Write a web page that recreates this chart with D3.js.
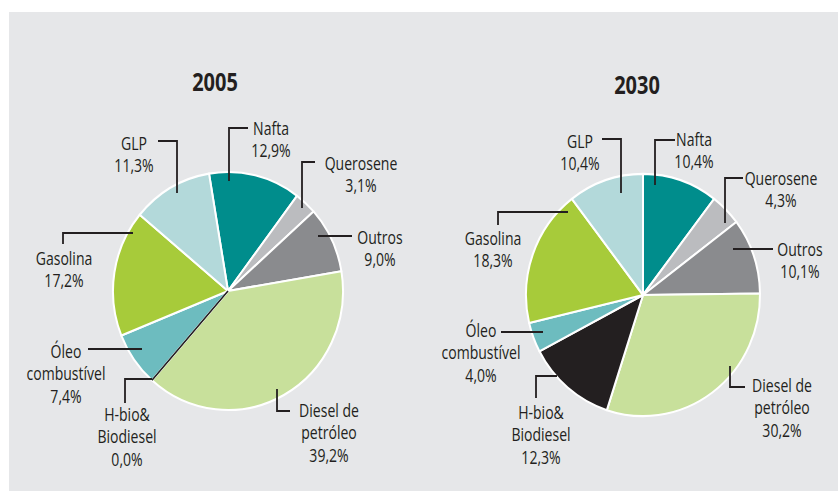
<!DOCTYPE html>
<html>
<head>
<meta charset="utf-8">
<script src="https://cdn.jsdelivr.net/npm/d3@7"></script>
<style>
  html, body { margin: 0; padding: 0; background: #ffffff; }
  svg { display: block; }
  text { font-family: "Open Sans", "Noto Sans", sans-serif; fill: #231f20; }
</style>
</head>
<body>
<svg id="chart" width="838" height="491"></svg>
<script>
// ---- Data ----
const categories = ["Nafta", "Querosene", "Outros", "Diesel de petróleo", "H-bio& Biodiesel", "Óleo combustível", "Gasolina", "GLP"];
const labelLines = [["Nafta"], ["Querosene"], ["Outros"], ["Diesel de", "petróleo"], ["H-bio&", "Biodiesel"], ["Óleo", "combustível"], ["Gasolina"], ["GLP"]];
const years = ["2005", "2030"];
const values2005 = [12.9, 3.1, 9.0, 39.2, 0.0, 7.4, 17.2, 11.3];
const values2030 = [10.4, 4.3, 10.1, 30.2, 12.3, 4.0, 18.3, 10.4];
const colors = ["#008d8c", "#bbbcbf", "#8a8b8e", "#c8e09b", "#231f20", "#6dbcbf", "#a7cb3a", "#b3d9da"];

// ---- Layout (positions & styles) ----
const W = 838, H = 491;
const labelScale = 0.78, titleScale = 0.8, lineGap = 22.5, labelSize = 18;
const panels = [
  { year: years[0], values: values2005, cx: 228, cy: 291, r: 115, start: -9.5, titleX: 215, titleY: 91,
    labels: [
      { x: 271, y: 129, leader: [[248,128],[229,128],[229,181]] },
      { x: 361, y: 164, leader: [[315,162],[302,162],[302,208]] },
      { x: 380, y: 238, leader: [[352,236],[318,236]] },
      { x: 329, y: 411, leader: [[290,411],[277,411],[277,389]] },
      { x: 127, y: 415, leader: [[125,403],[125,379],[152,379]] },
      { x: 66,  y: 352, leader: [[88,349],[142,349]] },
      { x: 64,  y: 259, leader: [[63,244],[63,233],[133,233]] },
      { x: 134, y: 144, leader: [[158,141],[177,141],[177,193]] }
    ] },
  { year: years[1], values: values2030, cx: 643, cy: 295, r: 117, start: 0, titleX: 637, titleY: 94,
    labels: [
      { x: 694, y: 140, leader: [[675,140],[655,140],[655,185]] },
      { x: 781, y: 179, leader: [[743,178],[725,178],[725,223]] },
      { x: 800, y: 250, leader: [[773,249],[733,249]] },
      { x: 782, y: 386, leader: [[745,387],[730,387],[730,366]] },
      { x: 541, y: 413, leader: [[536,398],[536,376],[557,376]] },
      { x: 481, y: 331, leader: [[501,332],[543,332]] },
      { x: 493, y: 239, leader: [[498,225],[498,212],[568,212]] },
      { x: 580, y: 142, leader: [[602,139],[621,139],[621,193]] }
    ] }
];

const svg = d3.select("#chart");
svg.append("rect").attr("x", 9).attr("y", 12).attr("width", W - 9).attr("height", H - 12).attr("fill", "#e6e7e9");

const color = d3.scaleOrdinal().domain(categories).range(colors);
const fmt = v => v.toFixed(1).replace(".", ",") + "%";
const line = d3.line();

panels.forEach(p => {
  const data = categories.map((c, i) => ({ cat: c, value: p.values[i], lines: labelLines[i], lab: p.labels[i] }));
  const a0 = p.start * Math.PI / 180;
  const pie = d3.pie().sort(null).value(d => d.value).startAngle(a0).endAngle(a0 + 2 * Math.PI);
  const arc = d3.arc().innerRadius(0).outerRadius(p.r);
  const arcs = pie(data);

  // title
  svg.append("text")
    .attr("transform", `translate(${p.titleX},${p.titleY}) scale(${titleScale},1)`)
    .attr("text-anchor", "middle").attr("font-size", 25).attr("font-weight", "bold").text(p.year);

  const g = svg.append("g").attr("transform", `translate(${p.cx},${p.cy}) scale(1,1.035)`);
  g.selectAll("path.slice").data(arcs.filter(d => d.value > 0)).join("path")
    .attr("class", "slice")
    .attr("d", arc)
    .attr("fill", d => color(d.data.cat))
    .attr("stroke", "#ffffff").attr("stroke-width", 2).attr("stroke-linejoin", "round");
  // zero-value slices drawn as a dark radius line
  g.selectAll("path.zero").data(arcs.filter(d => d.value === 0)).join("path")
    .attr("class", "zero")
    .attr("d", arc)
    .attr("fill", "none")
    .attr("stroke", d => color(d.data.cat)).attr("stroke-width", 1.6);

  // leaders
  svg.append("g").selectAll("path").data(data).join("path")
    .attr("d", d => line(d.lab.leader))
    .attr("fill", "none").attr("stroke", "#231f20").attr("stroke-width", 1.8);

  // labels
  const lg = svg.append("g").selectAll("text").data(data).join("text")
    .attr("transform", d => `translate(${d.lab.x},0) scale(${labelScale},1)`)
    .attr("text-anchor", "middle").attr("font-size", labelSize);
  lg.each(function(d) {
    const t = d3.select(this);
    const rows = d.lines.concat([fmt(d.value)]);
    rows.forEach((s, k) => {
      t.append("tspan").attr("x", 0).attr("y", d.lab.y + 6 + k * lineGap).text(s);
    });
  });
});
</script>
</body>
</html>
